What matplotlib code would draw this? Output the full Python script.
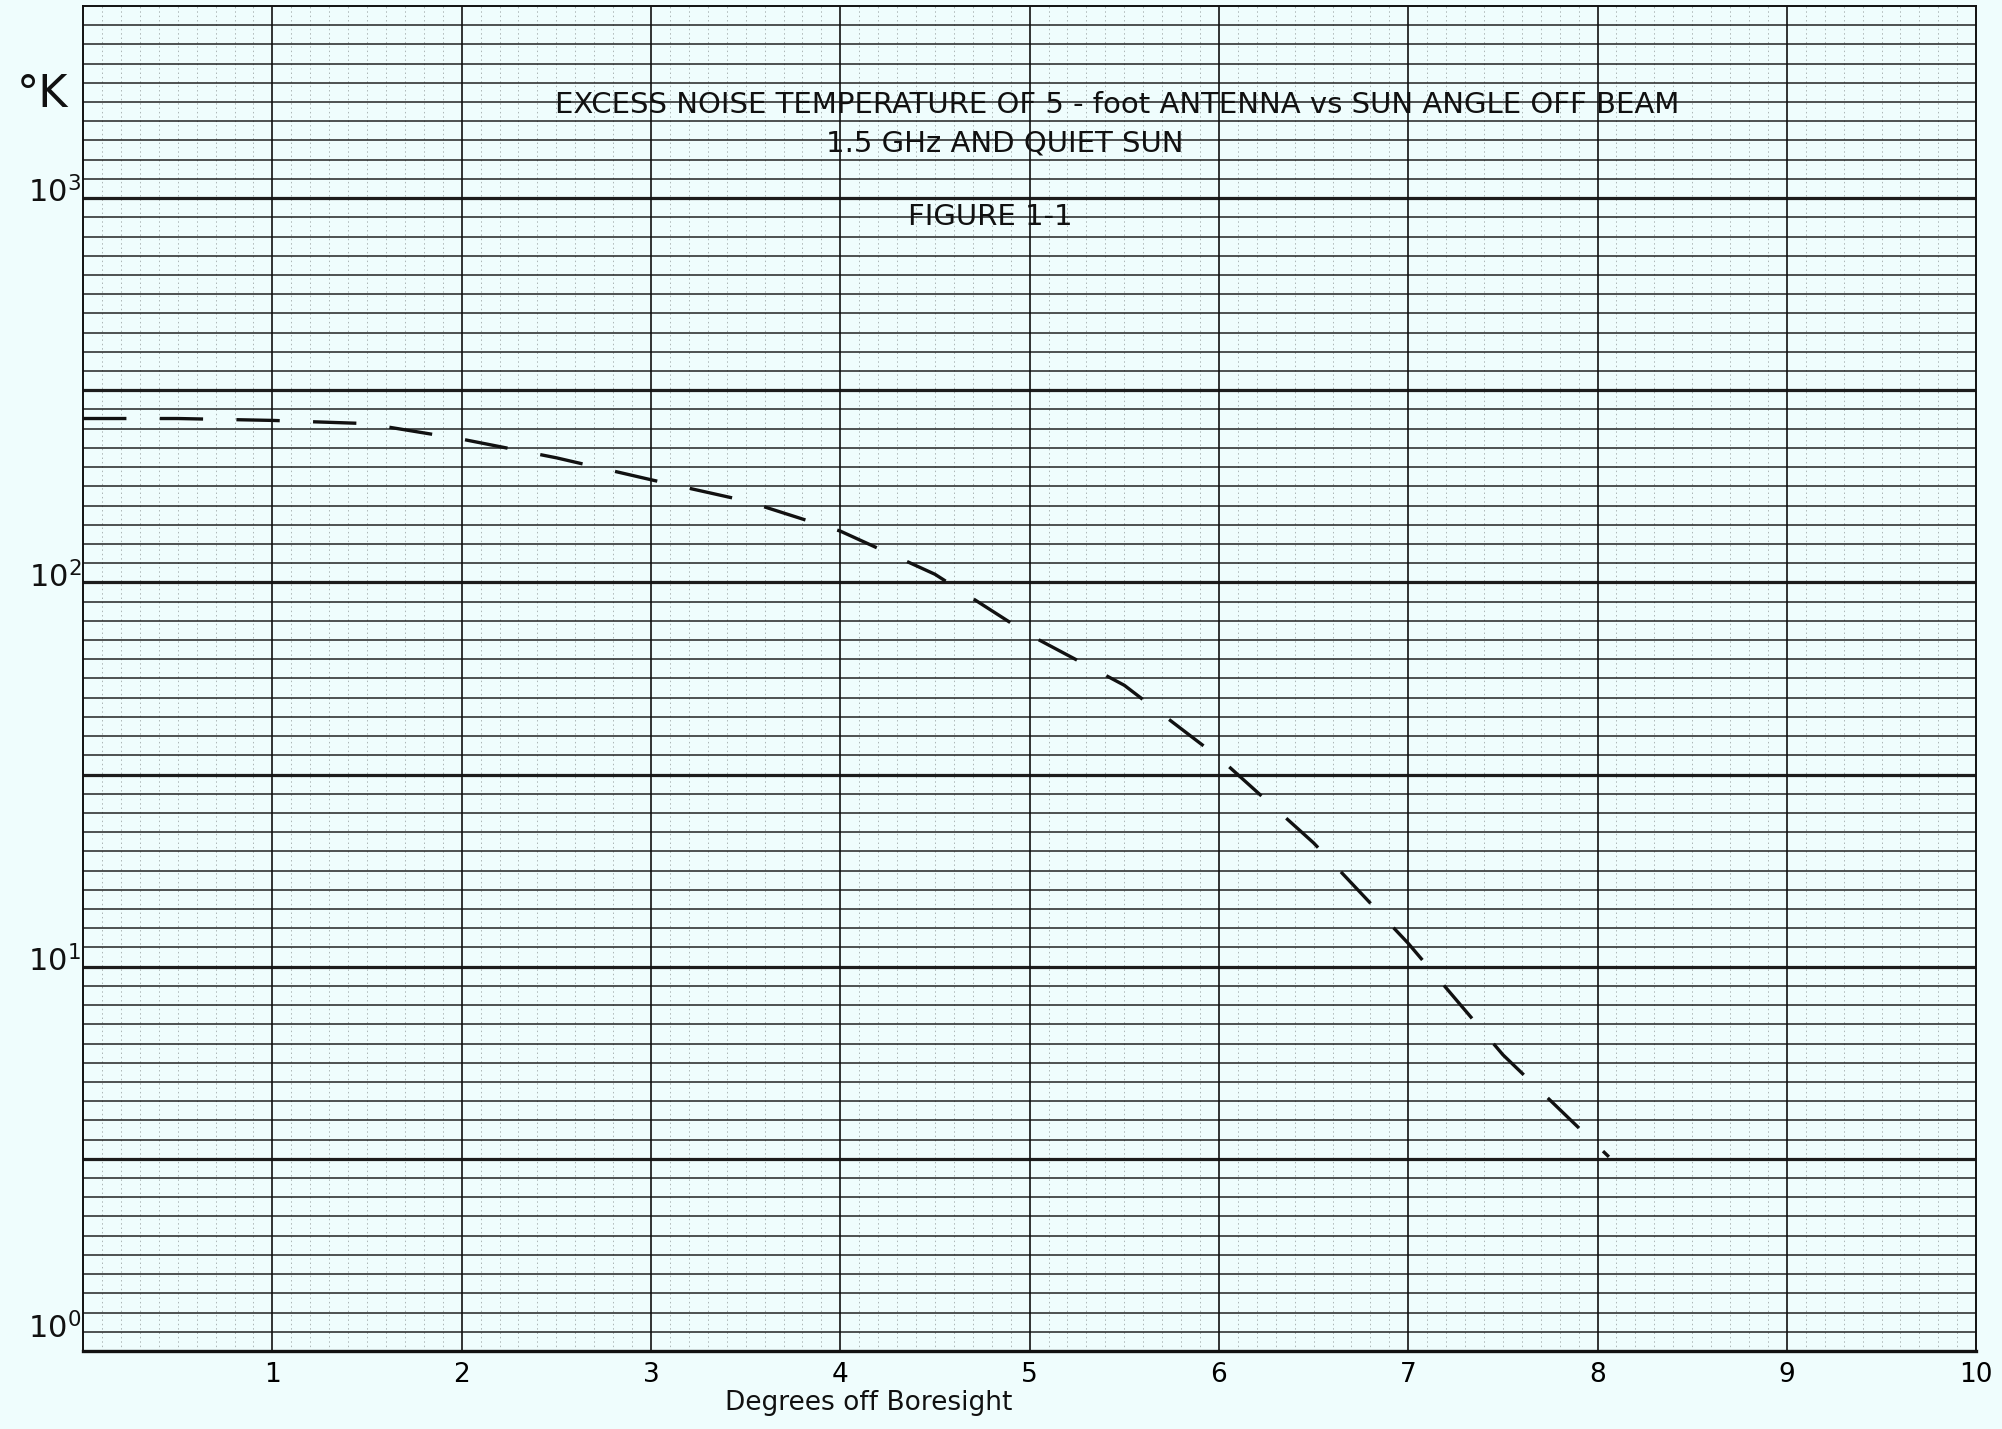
import numpy as np
import matplotlib
matplotlib.use("Agg")
import matplotlib.pyplot as plt
import matplotlib.transforms as mtransforms

# curve
deg = [0.0, 0.5, 1.0, 1.5, 2.0, 2.5, 3.0, 3.5, 4.0, 4.5, 5.0, 5.5, 6.0, 6.5, 7.0, 7.5, 8.06]
temp_k = [267, 267, 264, 259, 236, 211, 185, 163, 136, 105, 73, 54, 35, 21, 11.5, 5.9, 3.2]

x_ticks = [1, 2, 3, 4, 5, 6, 7, 8, 9, 10]
y_decades = [0, 1, 2, 3]

title_lines = ["EXCESS NOISE TEMPERATURE OF 5 - foot ANTENNA vs SUN ANGLE OFF BEAM",
               "1.5 GHz AND QUIET SUN"]
fig_label = "FIGURE 1-1"
x_label = "Degrees off Boresight"

paper = "#effdfd"
ink = "#111111"

fig = plt.figure(figsize=(20.02, 14.29), dpi=100, facecolor=paper)
ax = fig.add_axes([0.0415, 0.0546, 0.9456, 0.9412])
ax.set_facecolor(paper)
ax.set_yscale("log")
ax.set_xlim(0, 10)
ax.set_ylim(1, 10 ** 3.5)

# graph paper: 20 even lines per decade, heavy every half decade
for k in range(1, 70):
    heavy = k % 10 == 0
    ax.axhline(10 ** (k * 0.05), color=ink, lw=2.3 if heavy else 1.2,
               alpha=0.95 if heavy else 0.85, zorder=1)
# faint dotted minor verticals, solid verticals every degree
for k in range(1, 100):
    if k % 10:
        ax.axvline(k * 0.1, color=ink, lw=0.7, ls=(0, (1.5, 3)), alpha=0.3, zorder=1)
for k in range(1, 10):
    ax.axvline(k, color=ink, lw=1.2, zorder=1)

for s in ax.spines.values():
    s.set_color(ink)
ax.spines["bottom"].set_linewidth(2.4)
ax.spines["left"].set_linewidth(1.4)
ax.spines["top"].set_linewidth(1.4)
ax.spines["right"].set_linewidth(1.4)

ax.plot(deg, temp_k, color=ink, lw=2.4, ls=(0, (13, 10)), zorder=3)

ax.tick_params(length=0)
ax.set_xticks(x_ticks)
ax.set_xticklabels([str(v) for v in x_ticks], fontsize=19)
ax.tick_params(axis="x", pad=8)
ax.set_yticks([])
ax.minorticks_off()
ax.set_yticks([], minor=True)

trans = mtransforms.blended_transform_factory(ax.transAxes, ax.transData)
for d in y_decades:
    yy = 10 ** (d + (0.06 if d == 0 else 0.015))
    ax.text(-0.001, yy, r"$\mathregular{10^{%d}}$" % d, transform=trans,
            ha="right", va="center", fontsize=22, color=ink)

fig.text(0.021, 0.934, "°K", fontsize=32, ha="center", va="center", color=ink)

fig.text(0.558, 0.9262, title_lines[0], fontsize=21, ha="center", va="center", color=ink, zorder=5)
fig.text(0.502, 0.8995, title_lines[1], fontsize=21, ha="center", va="center", color=ink, zorder=5)
fig.text(0.4945, 0.848, fig_label, fontsize=21, ha="center", va="center", color=ink, zorder=5)

fig.text(0.434, 0.018, x_label, fontsize=19, ha="center", va="center", color=ink)

fig.savefig("out.png", dpi=100, facecolor=paper)
